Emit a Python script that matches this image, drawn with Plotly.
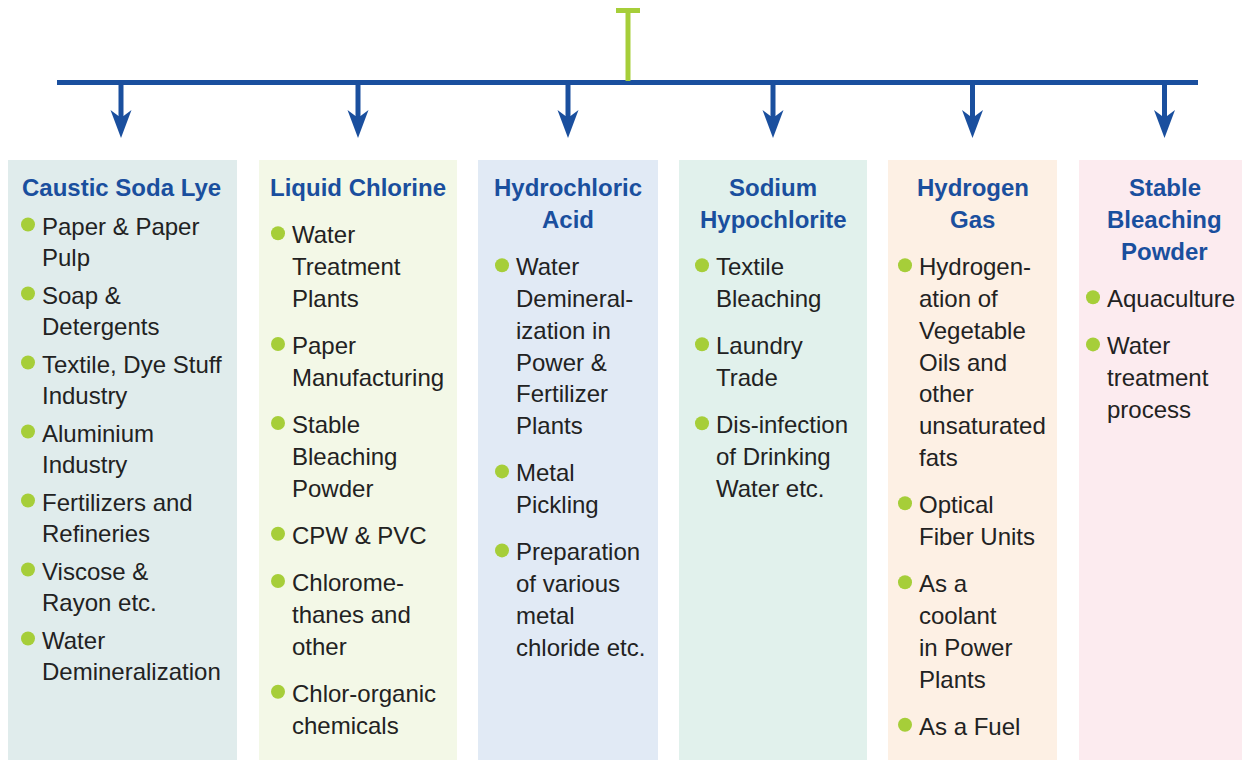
import plotly.graph_objects as go

# ---------------- data ----------------
categories = ["Caustic Soda Lye", "Liquid Chlorine", "Hydrochloric\nAcid",
              "Sodium\nHypochlorite", "Hydrogen\nGas", "Stable\nBleaching\nPowder"]

caustic_soda_uses = ["Paper & Paper\nPulp", "Soap &\nDetergents", "Textile, Dye Stuff\nIndustry",
                     "Aluminium\nIndustry", "Fertilizers and\nRefineries", "Viscose &\nRayon etc.",
                     "Water\nDemineralization"]
liquid_chlorine_uses = ["Water\nTreatment\nPlants", "Paper\nManufacturing", "Stable\nBleaching\nPowder",
                        "CPW & PVC", "Chlorome-\nthanes and\nother", "Chlor-organic\nchemicals"]
hydrochloric_acid_uses = ["Water\nDemineral-\nization in\nPower &\nFertilizer\nPlants",
                          "Metal\nPickling", "Preparation\nof various\nmetal\nchloride etc."]
hypochlorite_uses = ["Textile\nBleaching", "Laundry\nTrade", "Dis-infection\nof Drinking\nWater etc."]
hydrogen_uses = ["Hydrogen-\nation of\nVegetable\nOils and\nother\nunsaturated\nfats",
                 "Optical\nFiber Units", "As a\ncoolant\nin Power\nPlants", "As a Fuel"]
bleaching_powder_uses = ["Aquaculture", "Water\ntreatment\nprocess"]

uses = [caustic_soda_uses, liquid_chlorine_uses, hydrochloric_acid_uses,
        hypochlorite_uses, hydrogen_uses, bleaching_powder_uses]

# ---------------- layout geometry ----------------
# the page body has an 8px margin, so the figure is shrunk and its axes offset
OFF = 8
W, H = 1250, 760
box_left = [5, 259, 478, 679, 888, 1079]
box_right = [237, 457, 658, 867, 1057, 1250]
box_fill = ["#e0ecec", "#f3f8e7", "#e1eaf5", "#e1f1ec", "#fdf0e4", "#fcebef"]
text_off = [35, 31, 36, 35, 29, 26]
title_gap = [39, 47.7, 47.7, 47.7, 47.7, 47.7]
item_gap = [37.5, 47.2, 47.2, 47.2, 47.2, 47.2]
line_step = [31.5, 31.8, 31.8, 31.8, 31.8, 31.8]

BLUE = "#1a4f9e"
GREEN = "#a6ce39"
TXT = "#222222"
FONT = "Liberation Sans, Arial, sans-serif"
FS = 24
box_top = 160

shapes = []
annotations = []
bx, by = [], []

# top connector
shapes.append(dict(type="line", x0=57, x1=1198, y0=82.5, y1=82.5, line=dict(color=BLUE, width=5)))
shapes.append(dict(type="rect", x0=625.5, x1=630.5, y0=9, y1=81, fillcolor=GREEN, line=dict(width=0)))
shapes.append(dict(type="rect", x0=616, x1=640, y0=8, y1=13, fillcolor=GREEN, line=dict(width=0)))

def esc(s):
    return s.replace("&", "&amp;")

for i, cat in enumerate(categories):
    L, R = box_left[i], box_right[i]
    cx = (L + R) / 2
    shapes.append(dict(type="rect", x0=L, x1=R, y0=box_top, y1=H, fillcolor=box_fill[i],
                       line=dict(width=0), layer="below"))
    # arrow
    shapes.append(dict(type="rect", x0=cx - 2.5, x1=cx + 2.5, y0=82, y1=117,
                       fillcolor=BLUE, line=dict(width=0)))
    shapes.append(dict(type="path",
                       path=f"M {cx-10.5},110 L {cx-2.5},116 L {cx+2.5},116 L {cx+10.5},110 L {cx},138 Z",
                       fillcolor=BLUE, line=dict(width=0)))
    # title
    y = 187
    tlines = cat.split("\n")
    for k, t in enumerate(tlines):
        annotations.append(dict(x=cx, y=y, text="<b>" + esc(t) + "</b>", showarrow=False,
                                xanchor="center", yanchor="middle",
                                font=dict(family=FONT, size=FS, color=BLUE)))
        if k < len(tlines) - 1:
            y += 32
    y += title_gap[i]
    tx = L + text_off[i]
    for j, item in enumerate(uses[i]):
        lines = item.split("\n")
        bx.append(tx - 12)
        by.append(y - 1.5)
        for k, ln in enumerate(lines):
            annotations.append(dict(x=tx, y=y, text=esc(ln), showarrow=False,
                                    xanchor="left", yanchor="middle",
                                    font=dict(family=FONT, size=FS, color=TXT)))
            if k < len(lines) - 1:
                y += line_step[i]
        y += item_gap[i]

fig = go.Figure()
fig.add_trace(go.Scatter(x=bx, y=by, mode="markers", hoverinfo="skip",
                         marker=dict(size=14, color=GREEN, line=dict(width=0))))
fig.update_layout(
    width=W - OFF, height=H - OFF, margin=dict(l=0, r=0, t=0, b=0),
    paper_bgcolor="white", plot_bgcolor="white", showlegend=False,
    xaxis=dict(range=[OFF, W], visible=False, fixedrange=True),
    yaxis=dict(range=[H, OFF], visible=False, fixedrange=True),
    shapes=shapes, annotations=annotations,
)
fig.write_html("out.html")
